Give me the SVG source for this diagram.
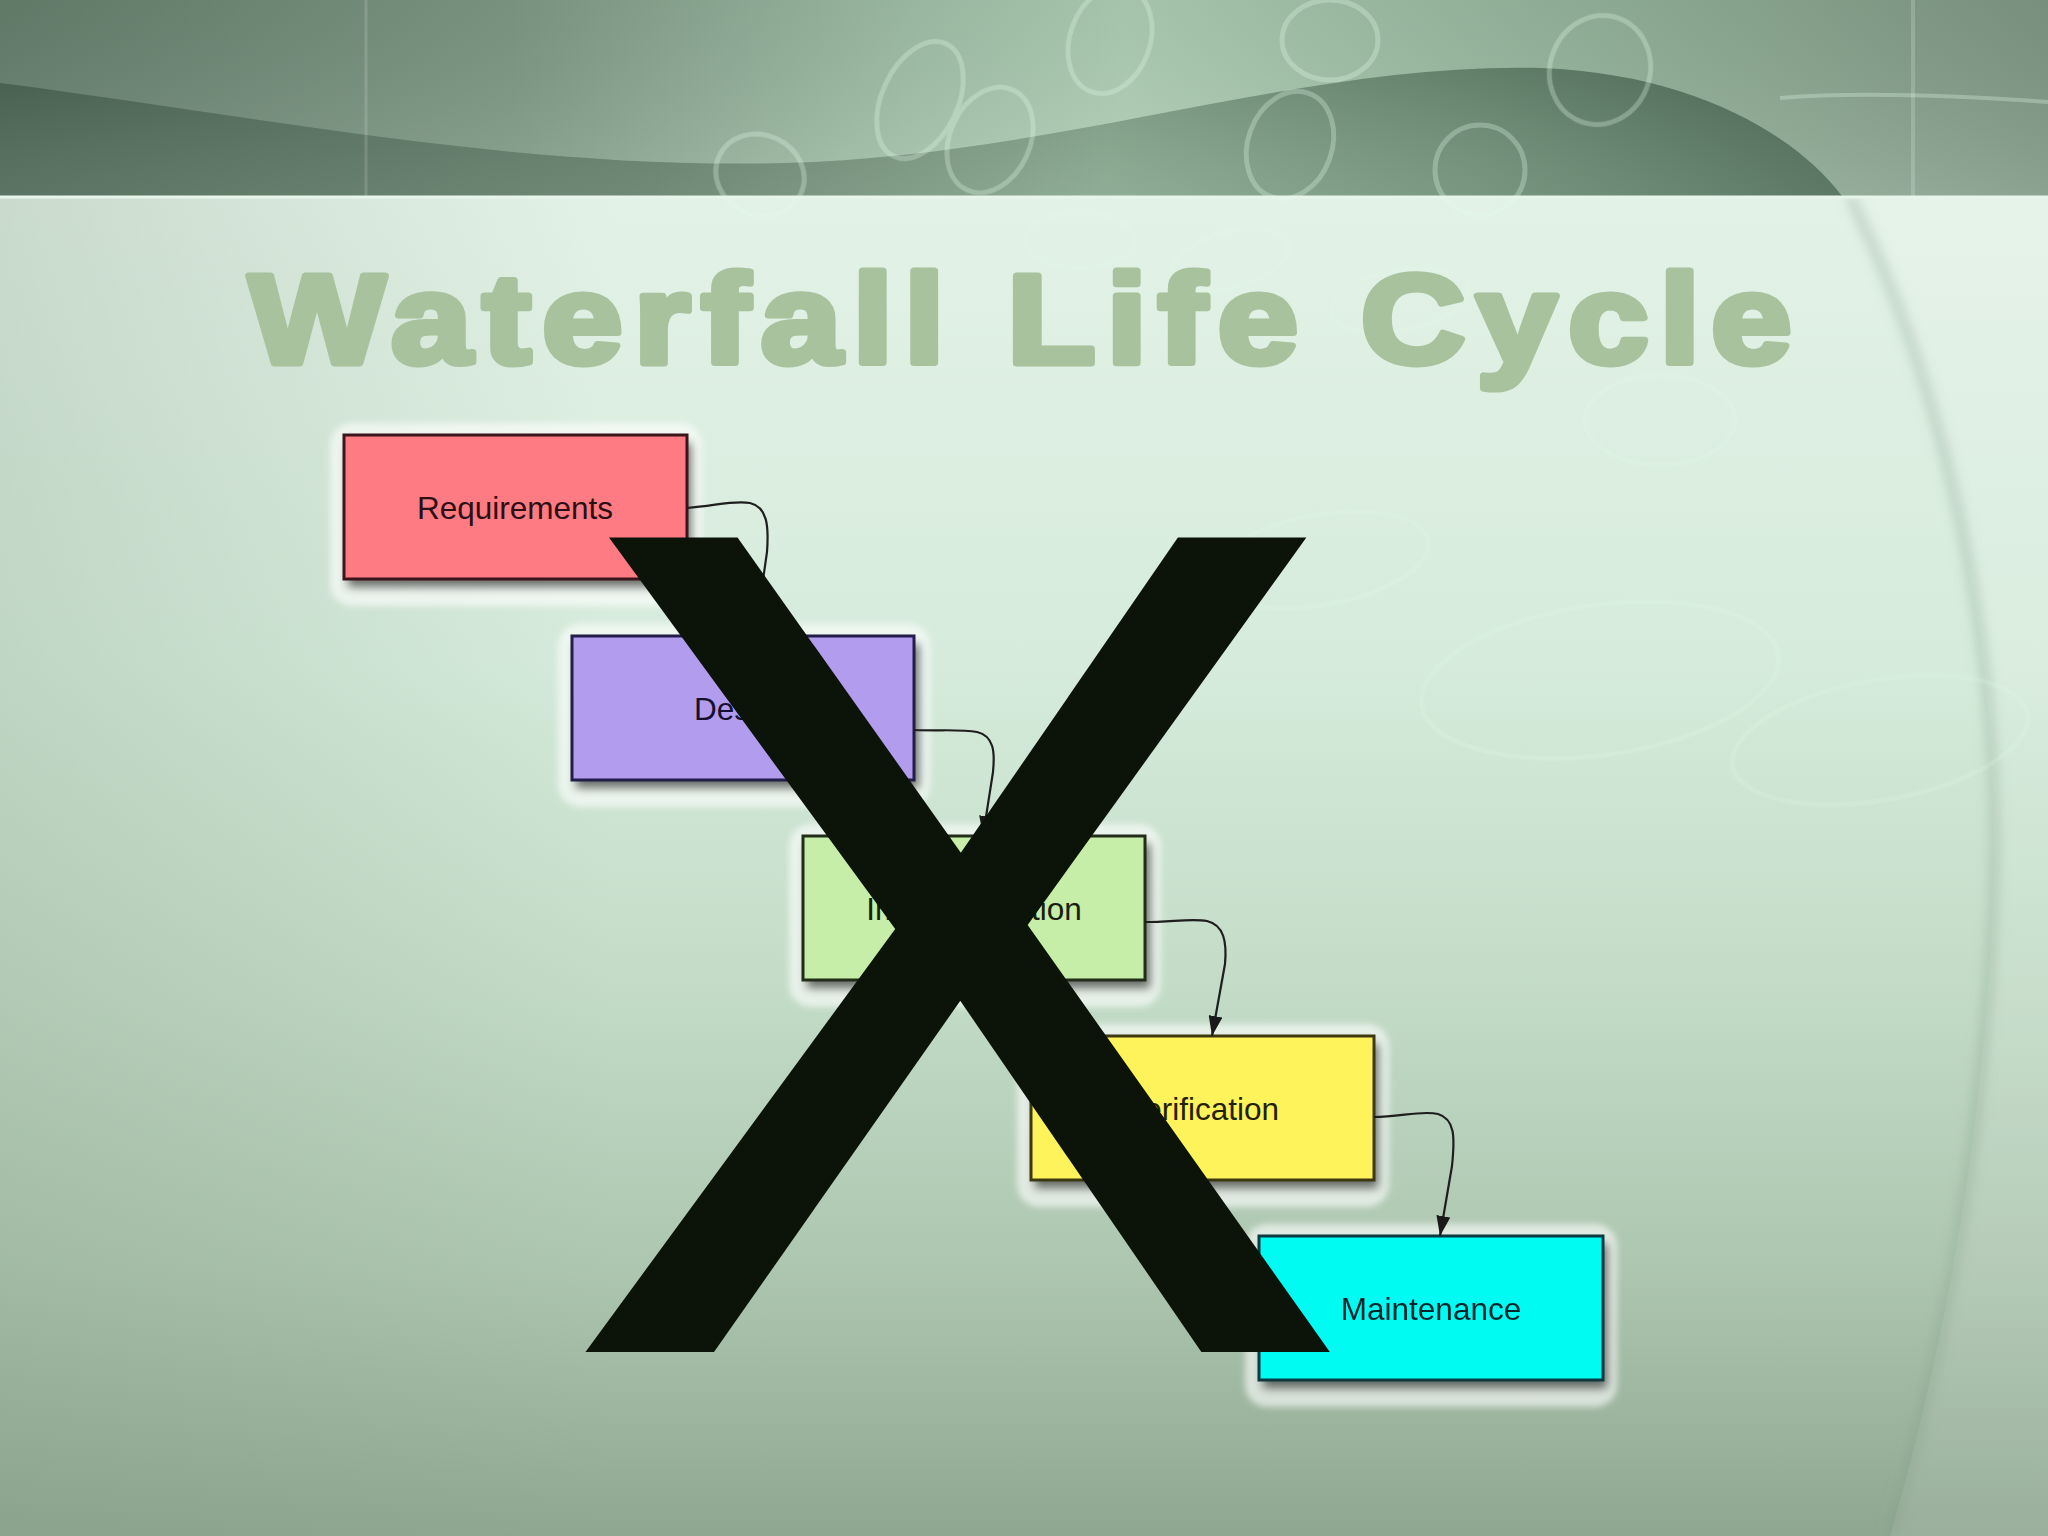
<svg xmlns="http://www.w3.org/2000/svg" width="2048" height="1536" viewBox="0 0 2048 1536">
<defs>
<linearGradient id="bodyBg" x1="0" y1="196" x2="0" y2="1536" gradientUnits="userSpaceOnUse">
<stop offset="0" stop-color="#e3f2e7"/>
<stop offset="0.35" stop-color="#d6ebdb"/>
<stop offset="0.6" stop-color="#c2dbc6"/>
<stop offset="0.8" stop-color="#adc6b0"/>
<stop offset="1" stop-color="#8fa791"/>
</linearGradient>
<linearGradient id="bodyLeft" x1="0" y1="0" x2="1" y2="0">
<stop offset="0" stop-color="#7e967f" stop-opacity="0.25"/>
<stop offset="0.3" stop-color="#7e967f" stop-opacity="0"/>
</linearGradient>
<linearGradient id="banner" x1="0" y1="0" x2="2048" y2="0" gradientUnits="userSpaceOnUse">
<stop offset="0" stop-color="#66806d"/>
<stop offset="0.25" stop-color="#7f9a86"/>
<stop offset="0.45" stop-color="#a3c2aa"/>
<stop offset="0.55" stop-color="#b0cfb6"/>
<stop offset="0.75" stop-color="#98b89f"/>
<stop offset="1" stop-color="#7f9885"/>
</linearGradient>
<linearGradient id="bannerV" x1="0" y1="0" x2="0" y2="196" gradientUnits="userSpaceOnUse">
<stop offset="0" stop-color="#000" stop-opacity="0.06"/>
<stop offset="1" stop-color="#fff" stop-opacity="0.1"/>
</linearGradient>
<linearGradient id="wave" x1="0" y1="0" x2="1842" y2="0" gradientUnits="userSpaceOnUse">
<stop offset="0" stop-color="#4d6855"/>
<stop offset="0.35" stop-color="#647f6b"/>
<stop offset="0.6" stop-color="#86a68d"/>
<stop offset="0.8" stop-color="#6d8e76"/>
<stop offset="1" stop-color="#4e6d58"/>
</linearGradient>
<linearGradient id="waveShade" x1="0" y1="60" x2="0" y2="196" gradientUnits="userSpaceOnUse">
<stop offset="0" stop-color="#000" stop-opacity="0.12"/>
<stop offset="1" stop-color="#fff" stop-opacity="0.08"/>
</linearGradient>
<filter id="shadow" x="-20%" y="-20%" width="140%" height="160%">
<feGaussianBlur stdDeviation="5"/>
</filter>
<filter id="halo" x="-20%" y="-20%" width="140%" height="160%">
<feGaussianBlur stdDeviation="3"/>
</filter>
<filter id="soft" x="-20%" y="-20%" width="140%" height="140%">
<feGaussianBlur stdDeviation="6"/>
</filter>
<marker id="arrow" viewBox="0 0 20 14" refX="20" refY="7" markerWidth="20" markerHeight="14" markerUnits="userSpaceOnUse" orient="auto">
<path d="M0,0 L20,7 L0,14 z" fill="#1a1a1a"/>
</marker>
<style>
.halo{fill:#ffffff;fill-opacity:0.6;filter:url(#halo)}
.shd{fill:#000;fill-opacity:0.55;filter:url(#shadow)}
.box{stroke-width:3}
.lbl{font-family:"Liberation Sans",Arial,Helvetica,sans-serif;font-size:31.5px;text-anchor:middle}
.conn{fill:none;stroke:#1e1e1e;stroke-width:2.2;marker-end:url(#arrow)}
.ring{fill:none;stroke:#e4fbe9;stroke-width:5}
</style>
</defs>

<g id="background">
<rect x="0" y="0" width="2048" height="1536" fill="url(#bodyBg)"/>
<rect x="0" y="196" width="2048" height="1340" fill="url(#bodyLeft)"/>
<path d="M1850 196 C1960 420 2010 700 1990 960 C1975 1200 1930 1400 1890 1536 L2048 1536 L2048 196 Z" fill="#ffffff" fill-opacity="0.1"/>
<path d="M1850 196 C1960 420 2010 700 1990 960 C1975 1200 1930 1400 1890 1536" fill="none" stroke="#7f9a86" stroke-opacity="0.35" stroke-width="10" filter="url(#soft)"/>
<g opacity="0.18">
<ellipse class="ring" cx="1230" cy="260" rx="60" ry="28" transform="rotate(-15 1230 260)"/>
<ellipse class="ring" cx="1400" cy="300" rx="70" ry="30" transform="rotate(-10 1400 300)"/>
<ellipse class="ring" cx="1660" cy="420" rx="75" ry="45"/>
<ellipse class="ring" cx="1600" cy="680" rx="180" ry="75" transform="rotate(-8 1600 680)"/>
<ellipse class="ring" cx="1880" cy="740" rx="150" ry="60" transform="rotate(-10 1880 740)"/>
<ellipse class="ring" cx="1320" cy="560" rx="110" ry="45" transform="rotate(-10 1320 560)"/>
<ellipse class="ring" cx="1080" cy="240" rx="55" ry="28"/>
</g>
<rect x="0" y="0" width="2048" height="196" fill="url(#banner)"/>
<rect x="0" y="0" width="2048" height="196" fill="url(#bannerV)"/>
<path d="M0 83 C250 115 520 170 784 163 C1060 156 1300 62 1541 68 C1700 74 1800 140 1842 196 L0 196 Z" fill="url(#wave)"/>
<path d="M0 83 C250 115 520 170 784 163 C1060 156 1300 62 1541 68 C1700 74 1800 140 1842 196 L0 196 Z" fill="url(#waveShade)"/>
<g opacity="0.3">
<ellipse class="ring" cx="920" cy="100" rx="38" ry="62" transform="rotate(25 920 100)"/>
<ellipse class="ring" cx="1110" cy="40" rx="40" ry="55" transform="rotate(20 1110 40)"/>
<ellipse class="ring" cx="1330" cy="40" rx="48" ry="40"/>
<ellipse class="ring" cx="1600" cy="70" rx="50" ry="55" transform="rotate(20 1600 70)"/>
<ellipse class="ring" cx="1290" cy="145" rx="42" ry="55" transform="rotate(20 1290 145)"/>
<ellipse class="ring" cx="990" cy="140" rx="40" ry="55" transform="rotate(25 990 140)"/>
<ellipse class="ring" cx="1480" cy="170" rx="45" ry="45"/>
<ellipse class="ring" cx="760" cy="175" rx="45" ry="40" transform="rotate(25 760 175)"/>
<path d="M1780 98 C1850 92 1950 95 2048 102" fill="none" stroke="#e4fbe9" stroke-width="4"/>
</g>
<line x1="366" y1="0" x2="366" y2="196" stroke="#ffffff" stroke-opacity="0.15" stroke-width="3"/>
<line x1="1913" y1="0" x2="1913" y2="196" stroke="#ffffff" stroke-opacity="0.18" stroke-width="4"/>
<line x1="0" y1="197" x2="2048" y2="197" stroke="#e8f5ea" stroke-width="3"/>
</g>

<g id="title">
<text x="249" y="363" letter-spacing="10" textLength="1554" lengthAdjust="spacingAndGlyphs" font-family="'Liberation Sans',Arial,sans-serif" font-weight="bold" font-size="126" fill="#a9c29e" stroke="#a9c29e" stroke-width="7" stroke-linejoin="round">Waterfall Life Cycle</text>
</g>

<g id="node-requirements">
<rect class="halo" x="330" y="423" width="372" height="183" rx="22"/>
<rect class="shd" x="348" y="443" width="343" height="144"/>
<rect class="box" x="344" y="435" width="343" height="144" fill="#ff7b83" stroke="#3a1519"/>
<text class="lbl" x="515" y="519" fill="#2b0f12">Requirements</text>
</g>

<g id="node-design">
<rect class="halo" x="558" y="624" width="372" height="183" rx="22"/>
<rect class="shd" x="576" y="644" width="343" height="144"/>
<rect class="box" x="572" y="636" width="342" height="144" fill="#b29cee" stroke="#231d4a"/>
<text class="lbl" x="743" y="720" fill="#14102e">Design</text>
</g>

<g id="node-implementation">
<rect class="halo" x="789" y="824" width="372" height="183" rx="22"/>
<rect class="shd" x="807" y="844" width="343" height="144"/>
<rect class="box" x="803" y="836" width="342" height="144" fill="#c6eea8" stroke="#222d18"/>
<text class="lbl" x="974" y="920" fill="#16200c">Implementation</text>
</g>

<g id="node-verification">
<rect class="halo" x="1017" y="1024" width="372" height="183" rx="22"/>
<rect class="shd" x="1035" y="1044" width="343" height="144"/>
<rect class="box" x="1031" y="1036" width="343" height="144" fill="#fff35c" stroke="#3e3810"/>
<text class="lbl" x="1202" y="1120" fill="#221f05">Verification</text>
</g>

<g id="node-maintenance">
<rect class="halo" x="1245" y="1224" width="372" height="183" rx="22"/>
<rect class="shd" x="1263" y="1244" width="344" height="144"/>
<rect class="box" x="1259" y="1236" width="344" height="144" fill="#00fbf2" stroke="#0b3a42"/>
<text class="lbl" x="1431" y="1320" fill="#06262b">Maintenance</text>
</g>

<g id="connectors">
<path class="conn" d="M687 508 C715 506 733 500 750 503 C767 507 769 525 767 552 L755 636"/>
<path class="conn" d="M914 730 C942 731 962 729 977 732 C994 736 995 752 993 772 L983 836"/>
<path class="conn" d="M1145 922 C1172 922 1192 918 1207 921 C1224 925 1227 942 1225 964 L1212 1036"/>
<path class="conn" d="M1374 1117 C1400 1117 1422 1110 1438 1114 C1455 1119 1455 1137 1452 1166 L1440 1236"/>
</g>

<g id="x-mark">
<text x="565" y="1349" font-family="'Liberation Sans',Arial,sans-serif" font-size="1175" fill="#0c1308" stroke="#0c1308" stroke-width="6">X</text>
</g>
</svg>
